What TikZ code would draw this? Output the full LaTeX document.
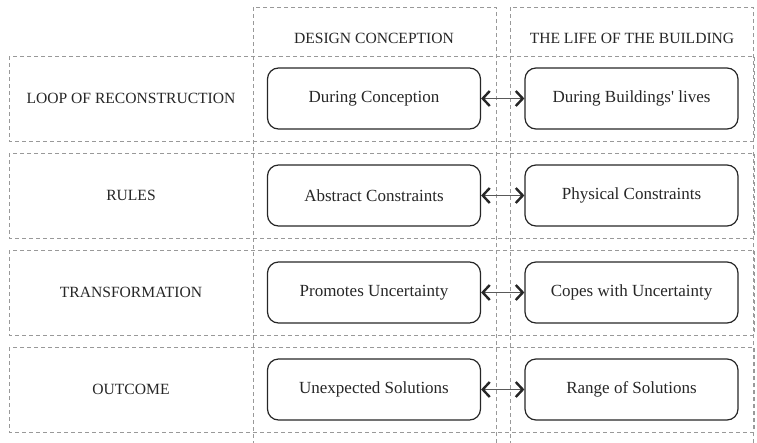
\documentclass[tikz,border=0pt]{standalone}
\usepackage{fontspec}
\setmainfont{Liberation Serif}
\usetikzlibrary{arrows.meta}
\begin{document}
\begin{tikzpicture}[x=1pt,y=-1pt,
  frame/.style={draw=black!40, dashed, dash pattern=on 4pt off 3pt, line width=0.7pt},
  cell/.style={draw=black!85, line width=1.2pt, rounded corners=11pt,
    minimum width=213pt, minimum height=61pt, inner sep=0pt,
    font=\fontsize{17}{20}\selectfont, text=black!85},
  head/.style={font=\fontsize{15.6}{18}\selectfont, text=black!85},
  link/.style={draw=black!65, line width=0.8pt, {Straight Barb[length=7pt,width=15pt,line width=2.4pt,color=black!85]}-{Straight Barb[length=7pt,width=15pt,line width=2.4pt,color=black!85]}}]
\useasboundingbox (0,0) rectangle (757,442);
% column frames
\draw[frame] (253,7) rectangle (496,450);
\draw[frame] (510,7) rectangle (753,450);
% row frames
\foreach \y in {56,153,250,347}
  \draw[frame] (9,\y) rectangle (754,\y+85);
% column headings
\node[head] (hc1) at (374,38) {DESIGN CONCEPTION};
\node[head] (hc2) at (632,38) {THE LIFE OF THE BUILDING};
% row headings
\node[head] (hr1) at (131,98.5) {LOOP OF RECONSTRUCTION};
\node[head] (hr2) at (131,195.5) {RULES};
\node[head] (hr3) at (131,292.5) {TRANSFORMATION};
\node[head] (hr4) at (131,389.5) {OUTCOME};
% boxes
\node[cell] (a1) at (374,98.5) {During Conception};
\node[cell] (b1) at (631.5,98.5) {During Buildings\textquotesingle{} lives};
\node[cell] (a2) at (374,195.5) {Abstract Constraints};
\node[cell] (b2) at (631.5,195.5) {Physical Constraints};
\node[cell] (a3) at (374,292.5) {Promotes Uncertainty};
\node[cell] (b3) at (631.5,292.5) {Copes with Uncertainty};
\node[cell] (a4) at (374,389.5) {Unexpected Solutions};
\node[cell] (b4) at (631.5,389.5) {Range of Solutions};
% links
\foreach \i in {1,...,4}
  \draw[link] (a\i) -- (b\i);
\end{tikzpicture}
\end{document}
